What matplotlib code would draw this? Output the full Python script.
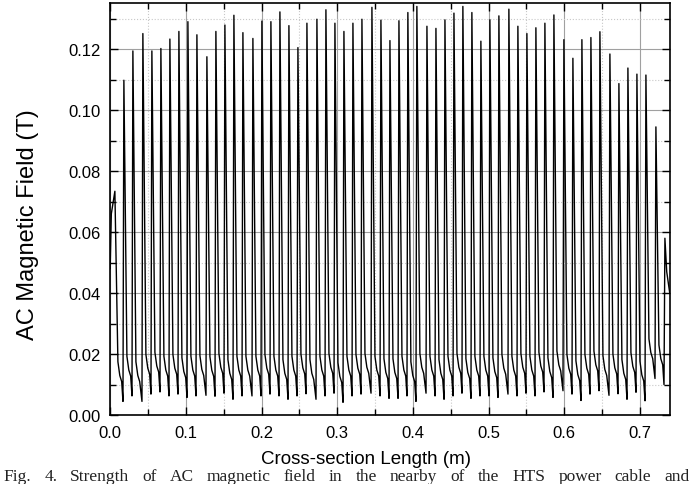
#!/usr/bin/env python3
"""AC magnetic field along the cross-section of the cable."""

import matplotlib

matplotlib.use("Agg")

import matplotlib.pyplot as plt
from matplotlib.ticker import FormatStrFormatter, MultipleLocator


# peak positions (m) and peak field (T)
PEAK_X = [
    0.0062, 0.0181, 0.0300, 0.0432, 0.0551, 0.0670, 0.0789, 0.0908, 0.1027, 0.1146,
    0.1278, 0.1397, 0.1516, 0.1635, 0.1754, 0.1886, 0.2005, 0.2124, 0.2243, 0.2362,
    0.2481, 0.2600, 0.2732, 0.2851, 0.2970, 0.3089, 0.3208, 0.3327, 0.3459, 0.3578,
    0.3697, 0.3816, 0.3934, 0.4053, 0.4186, 0.4305, 0.4424, 0.4543, 0.4661, 0.4780,
    0.4899, 0.5018, 0.5137, 0.5269, 0.5388, 0.5507, 0.5626, 0.5745, 0.5864, 0.5996,
    0.6115, 0.6234, 0.6353, 0.6472, 0.6604, 0.6723, 0.6842, 0.6961, 0.7080, 0.7212,
    0.7331,
]
PEAK_Y = [
    0.0734, 0.1098, 0.1194, 0.1251, 0.1194, 0.1202, 0.1233, 0.1258, 0.1290, 0.1247,
    0.1175, 0.1258, 0.1279, 0.1311, 0.1254, 0.1235, 0.1292, 0.1290, 0.1322, 0.1277,
    0.1205, 0.1285, 0.1298, 0.1329, 0.1285, 0.1258, 0.1285, 0.1298, 0.1337, 0.1295,
    0.1228, 0.1293, 0.1320, 0.1340, 0.1275, 0.1268, 0.1296, 0.1318, 0.1340, 0.1320,
    0.1226, 0.1296, 0.1309, 0.1331, 0.1275, 0.1251, 0.1270, 0.1285, 0.1312, 0.1231,
    0.1170, 0.1231, 0.1238, 0.1257, 0.1184, 0.1087, 0.1138, 0.1118, 0.1115, 0.0945,
    0.0580,
]

# minimum of each dip between two peaks (T)
DIP_Y = [
    0.0045, 0.0063, 0.0045, 0.0069, 0.0076, 0.0063, 0.0069, 0.0058, 0.0063, 0.0065,
    0.0062, 0.0072, 0.0052, 0.0063, 0.0063, 0.0063, 0.0069, 0.0063, 0.0052, 0.0063,
    0.0070, 0.0052, 0.0063, 0.0072, 0.0042, 0.0063, 0.0069, 0.0072, 0.0063, 0.0055,
    0.0055, 0.0063, 0.0045, 0.0072, 0.0063, 0.0052, 0.0063, 0.0072, 0.0055, 0.0063,
    0.0063, 0.0058, 0.0069, 0.0063, 0.0072, 0.0063, 0.0076, 0.0058, 0.0080, 0.0069,
    0.0048, 0.0069, 0.0080, 0.0065, 0.0070, 0.0052, 0.0075, 0.0047, 0.0120, 0.0100,
]

# shape of the decay after each peak: offset from the peak (m), level above the dip (T)
DECAY_DX = [0.0040, 0.0065, 0.0090]
DECAY_DY = [0.0130, 0.0085, 0.0065]
RISE_DX = 0.0012

# the trace at the two ends of the section
START_X = [0.0, 0.0015]
START_Y = [0.048, 0.066]
END_X = [0.7355, 0.7395]
END_Y = [0.047, 0.040]

CAPTION = "Fig. 4. Strength of AC magnetic field in the nearby of the HTS power cable and"


def build_trace():
    xs = list(START_X)
    ys = list(START_Y)
    for i, (xp, yp) in enumerate(zip(PEAK_X, PEAK_Y)):
        xs.append(xp)
        ys.append(yp)
        if i == len(PEAK_X) - 1:
            break
        dip = DIP_Y[i]
        for dx, dy in zip(DECAY_DX, DECAY_DY):
            xs.append(xp + dx)
            ys.append(dip + dy)
        xs.append(PEAK_X[i + 1] - RISE_DX)
        ys.append(dip)
    xs += END_X
    ys += END_Y
    return xs, ys


def add_justified_caption(fig, text, left, right, y, **kwargs):
    # spread the words over the full width, like a justified paper caption
    words = text.split()
    renderer = fig.canvas.get_renderer()
    fig_width = fig.bbox.width
    items = [fig.text(0, y, word, **kwargs) for word in words]
    widths = [item.get_window_extent(renderer).width / fig_width for item in items]
    gap = (right - left - sum(widths)) / (len(words) - 1)
    x = left
    for item, width in zip(items, widths):
        item.set_x(x)
        x += width + gap


def main():
    plt.rcParams["font.family"] = ["Liberation Sans", "DejaVu Sans"]

    fig = plt.figure(figsize=(6.93, 4.85), dpi=100)
    ax = fig.add_axes([0.159, 0.142, 0.808, 0.849])

    xs, ys = build_trace()
    ax.plot(xs, ys, color="black", linewidth=1.0, zorder=3)

    ax.set_xlim(0.0, 0.74)
    ax.set_ylim(0.0, 0.135)

    ax.xaxis.set_major_locator(MultipleLocator(0.1))
    ax.xaxis.set_minor_locator(MultipleLocator(0.05))
    ax.yaxis.set_major_locator(MultipleLocator(0.02))
    ax.yaxis.set_minor_locator(MultipleLocator(0.01))
    ax.xaxis.set_major_formatter(FormatStrFormatter("%.1f"))
    ax.yaxis.set_major_formatter(FormatStrFormatter("%.2f"))

    ax.grid(which="major", color="#a0a0a0", linestyle="-", linewidth=0.8, zorder=1)
    ax.grid(which="minor", color="#c8c8c8", linestyle=":", linewidth=0.8, zorder=1)
    ax.set_axisbelow(True)

    ax.tick_params(which="both", direction="in", top=True, right=True,
                   width=1.0, labelsize=12, colors="black")
    ax.tick_params(which="major", length=6, pad=7)
    ax.tick_params(which="minor", length=4)
    for spine in ax.spines.values():
        spine.set_linewidth(1.2)

    ax.set_xlabel("Cross-section Length (m)", fontsize=13.5)
    ax.set_ylabel("AC Magnetic Field (T)", fontsize=17)
    ax.xaxis.set_label_coords(0.457, -0.085)
    ax.yaxis.set_label_coords(-0.128, 0.465)

    add_justified_caption(fig, CAPTION, 0.005, 0.995, 0.0, fontsize=12.5,
                          va="bottom", ha="left", color="#222222",
                          family=["Liberation Serif", "DejaVu Serif"])

    fig.savefig("out.png", dpi=100)
    plt.close(fig)


if __name__ == "__main__":
    main()
